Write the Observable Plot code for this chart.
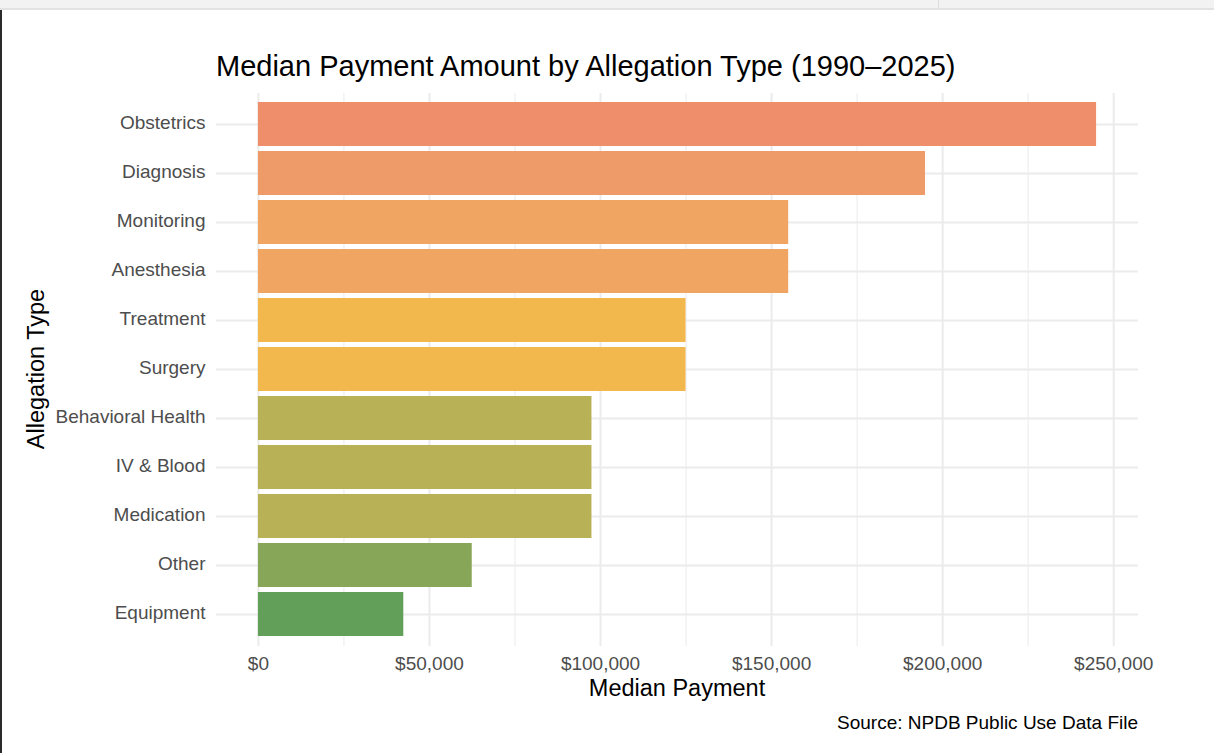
<!DOCTYPE html>
<html>
<head>
<meta charset="utf-8">
<script src="https://cdn.jsdelivr.net/npm/d3@7"></script>
<script src="https://cdn.jsdelivr.net/npm/@observablehq/plot@0.6"></script>
<style>
  html, body { margin: 0; padding: 0; background: #fff; }
  body { width: 1214px; height: 753px; overflow: hidden; font-family: "Liberation Sans", Arial, Helvetica, sans-serif; }
  #wrap { position: relative; width: 1214px; height: 753px; }
  #topbar { position: absolute; left: 0; top: 0; width: 1214px; height: 8px; background: #f2f2f2; border-bottom: 2px solid #e2e2e2; }
  #topdiv { position: absolute; left: 938px; top: 0; width: 1px; height: 8px; background: #dcdcdc; }
  #leftbar { position: absolute; left: 0; top: 10px; width: 2px; height: 743px; background: #2b2b2b; }
  #chart { position: absolute; left: 0; top: 0; width: 1214px; height: 753px; }
  #chart svg { max-width: none !important; width: 1214px !important; height: 753px !important; }
  .title { position: absolute; left: 216px; top: 50px; font-size: 29px; color: #000; white-space: nowrap; }
  .xlab { position: absolute; left: 216px; width: 922px; top: 675px; text-align: center; font-size: 23.5px; color: #000; }
  .ylab { position: absolute; left: 36px; top: 369px; transform: translate(-50%, -50%) rotate(-90deg); font-size: 23.5px; color: #000; white-space: nowrap; }
  .caption { position: absolute; right: 76px; top: 712px; font-size: 19px; color: #000; white-space: nowrap; }
</style>
</head>
<body>
<div id="wrap">
  <div id="topbar"></div>
  <div id="topdiv"></div>
  <div id="leftbar"></div>
  <div id="chart"></div>
  <div class="title">Median Payment Amount by Allegation Type (1990–2025)</div>
  <div class="ylab">Allegation Type</div>
  <div class="xlab">Median Payment</div>
  <div class="caption">Source: NPDB Public Use Data File</div>
</div>
<script>
const categories = ["Obstetrics", "Diagnosis", "Monitoring", "Anesthesia", "Treatment", "Surgery",
  "Behavioral Health", "IV & Blood", "Medication", "Other", "Equipment"];
const medianPayment = [245000, 195000, 155000, 155000, 125000, 125000, 97500, 97500, 97500, 62500, 42500];
const xTicks = [0, 50000, 100000, 150000, 200000, 250000];
const xMinorTicks = [25000, 75000, 125000, 175000, 225000];
const colorStops = [42500, 62500, 97500, 125000, 155000, 195000, 245000];
const colorRange = ["#62a05a", "#87a657", "#b8b155", "#f2b84e", "#f0a562", "#ef9b69", "#ee8e6a"];

const data = categories.map((c, i) => ({category: c, value: medianPayment[i]}));
const fmt = d3.format("$,");

const chart = Plot.plot({
  width: 1214,
  height: 753,
  marginLeft: 216,
  marginRight: 76,
  marginTop: 93,
  marginBottom: 107,
  style: {fontFamily: '"Liberation Sans", Arial, Helvetica, sans-serif', background: "transparent"},
  x: {domain: [-12250, 257250], label: null},
  y: {domain: categories, label: null, paddingInner: 0.1, paddingOuter: 0.15},
  color: {type: "linear", domain: colorStops, range: colorRange, interpolate: "rgb"},
  marks: [
    Plot.ruleX(xMinorTicks, {stroke: "#ebebeb", strokeWidth: 1}),
    Plot.ruleX(xTicks, {stroke: "#ebebeb", strokeWidth: 2}),
    Plot.ruleY(categories, {y: d => d, stroke: "#ebebeb", strokeWidth: 2}),
    Plot.barX(data, {y: "category", x: "value", fill: "value"}),
    Plot.axisX(xTicks, {tickSize: 0, tickPadding: 10, tickFormat: fmt, fontSize: 19, fill: "#4d4d4d", label: null}),
    Plot.axisY({tickSize: 0, tickPadding: 11, fontSize: 19, fill: "#4d4d4d", label: null, dy: -1.5})
  ]
});
document.getElementById("chart").appendChild(chart);
</script>
</body>
</html>
